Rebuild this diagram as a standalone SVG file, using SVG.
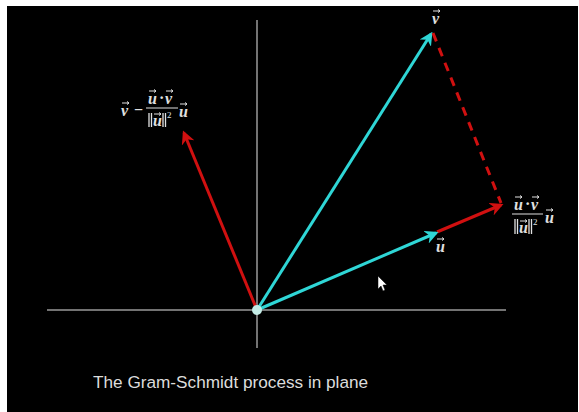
<svg xmlns="http://www.w3.org/2000/svg" width="579" height="412" viewBox="0 0 579 412">
<defs>
<style>
.m{font-family:"Liberation Serif","DejaVu Serif",serif;font-weight:bold;font-style:italic;font-size:16px;fill:#e0e0e0}
.mr{font-family:"Liberation Serif","DejaVu Serif",serif;font-weight:bold;font-size:16px;fill:#e0e0e0}
.sup{font-family:"Liberation Serif","DejaVu Serif",serif;font-size:9px;fill:#e0e0e0}
.vec{stroke:#e0e0e0;stroke-width:1;fill:none}
.bar{stroke:#e0e0e0;stroke-width:1}
.nb{stroke:#e0e0e0;stroke-width:1.3}
.axis{stroke:#9a9a9a;stroke-width:1.5}
.cy{stroke:#2fd6d6;stroke-width:3;fill:none}
.rd{stroke:#d01010;stroke-width:3;fill:none}
</style>
<marker id="ac" viewBox="0 0 10 10" refX="8" refY="5" markerWidth="4.5" markerHeight="4.5" orient="auto" markerUnits="strokeWidth"><path d="M0,0 L10,5 L0,10 L3,5 z" fill="#2fd6d6"/></marker>
<marker id="ar" viewBox="0 0 10 10" refX="8" refY="5" markerWidth="4.5" markerHeight="4.5" orient="auto" markerUnits="strokeWidth"><path d="M0,0 L10,5 L0,10 L3,5 z" fill="#d01010"/></marker>
</defs>
<rect x="0" y="0" width="579" height="412" fill="#ffffff"/>
<rect x="7" y="6" width="571" height="406" fill="#000000"/>
<g id="axes">
<line class="axis" x1="47" y1="310" x2="506" y2="310"/>
<line class="axis" x1="257" y1="20" x2="257" y2="348"/>
</g>
<g id="connectors">
<line class="rd" x1="437" y1="232" x2="501" y2="205" marker-end="url(#ar)"/>
<line class="cy" x1="257" y1="310" x2="431" y2="34" marker-end="url(#ac)"/>
<line class="cy" x1="257" y1="310" x2="436" y2="233" marker-end="url(#ac)"/>
<line class="rd" x1="257" y1="310" x2="184" y2="133" marker-end="url(#ar)"/>
<line class="rd" x1="433" y1="33" x2="501" y2="203" stroke-dasharray="9,7"/>
</g>
<g id="origin"><circle cx="257" cy="310" r="5" fill="#c4ece6"/></g>
<g id="label-v">
<text class="m" x="432" y="24">v</text>
<path class="vec" d="M433,11 h7 m-2,-1.5 l2,1.5 l-2,1.5"/>
</g>
<g id="label-u">
<text class="m" x="436" y="252">u</text>
<path class="vec" d="M437,239 h7 m-2,-1.5 l2,1.5 l-2,1.5"/>
</g>
<g id="label-perp">
<text class="m" x="121" y="116">v</text>
<path class="vec" d="M122,103 h7 m-2,-1.5 l2,1.5 l-2,1.5"/>
<text class="mr" x="134" y="115">−</text>
<text class="m" x="148" y="104">u</text>
<path class="vec" d="M149,91 h7 m-2,-1.5 l2,1.5 l-2,1.5"/>
<text class="mr" x="159" y="103">·</text>
<text class="m" x="165" y="104">v</text>
<path class="vec" d="M166,91 h7 m-2,-1.5 l2,1.5 l-2,1.5"/>
<line class="bar" x1="146" y1="108" x2="178" y2="108"/>
<path class="nb" d="M149,113 v14 M151.5,113 v14 M163,113 v14 M165.5,113 v14"/>
<text class="m" x="153" y="126">u</text>
<path class="vec" d="M154,114 h7 m-2,-1.5 l2,1.5 l-2,1.5"/>
<text class="sup" x="167" y="118">2</text>
<text class="m" x="179" y="117">u</text>
<path class="vec" d="M180,104 h7 m-2,-1.5 l2,1.5 l-2,1.5"/>
</g>
<g id="label-proj">
<text class="m" x="514" y="210">u</text>
<path class="vec" d="M515,197 h7 m-2,-1.5 l2,1.5 l-2,1.5"/>
<text class="mr" x="525" y="209">·</text>
<text class="m" x="531" y="210">v</text>
<path class="vec" d="M532,197 h7 m-2,-1.5 l2,1.5 l-2,1.5"/>
<line class="bar" x1="512" y1="214" x2="543" y2="214"/>
<path class="nb" d="M515,219 v15 M517.5,219 v15 M529,219 v15 M531.5,219 v15"/>
<text class="m" x="519" y="233">u</text>
<path class="vec" d="M520,221 h7 m-2,-1.5 l2,1.5 l-2,1.5"/>
<text class="sup" x="533" y="225">2</text>
<text class="m" x="545" y="223">u</text>
<path class="vec" d="M546,210 h7 m-2,-1.5 l2,1.5 l-2,1.5"/>
</g>
<g id="cursor">
<path d="M378,276 L378,289 L381,286 L383,291 L385,290 L383,285 L387,285 Z" fill="#ffffff" stroke="#000" stroke-width="0.5"/>
</g>
<g id="title">
<text x="93" y="388" style="font-family:'Liberation Sans',Arial,sans-serif;font-size:17.2px;fill:#dcdcdc">The Gram-Schmidt process in plane</text>
</g>
</svg>
